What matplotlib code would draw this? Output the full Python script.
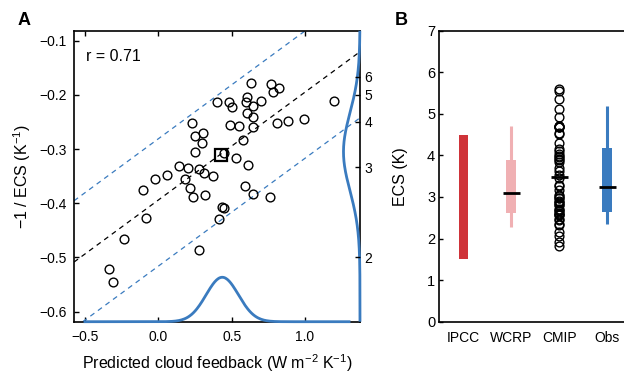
import numpy as np
import matplotlib
matplotlib.use('Agg')
import matplotlib.pyplot as plt

plt.rcParams['font.family'] = ['Liberation Sans', 'DejaVu Sans']
plt.rcParams['mathtext.default'] = 'regular'

# Panel A: predicted cloud feedback vs -1/ECS for the CMIP models
CLOUD_FB = [0.630, 0.766, 0.820, 0.784, 0.604, 0.398, 0.484, 0.502, 0.598,
            0.647, 0.698, 1.197, 0.604, 0.643, 0.229, 0.488, 0.550, 0.643,
            0.807, 0.886, 0.995, 0.250, 0.306, 0.295, 0.579, 0.248, 0.448,
            0.527, 0.611, 0.139, 0.204, 0.279, 0.313, 0.375, 0.061, -0.021,
            0.184, 0.214, -0.103, 0.589, 0.643, 0.761, 0.236, 0.316, 0.432,
            0.445, 0.411, -0.084, -0.234, 0.279, -0.336, -0.311]
NEG_INV_ECS = [-0.179, -0.180, -0.187, -0.195, -0.203, -0.214, -0.213,
               -0.222, -0.214, -0.220, -0.212, -0.212, -0.233, -0.241,
               -0.251, -0.256, -0.257, -0.260, -0.252, -0.248, -0.244,
               -0.276, -0.270, -0.289, -0.283, -0.305, -0.307, -0.316,
               -0.329, -0.332, -0.335, -0.337, -0.344, -0.350, -0.348,
               -0.356, -0.356, -0.371, -0.375, -0.368, -0.382, -0.388,
               -0.388, -0.385, -0.406, -0.408, -0.429, -0.427, -0.466,
               -0.487, -0.522, -0.546]
OBS_POINT = (0.425, -0.311)

# regression line and prediction interval
FIT_SLOPE = 0.199
FIT_INTERCEPT = -0.394
PI_UPPER_INTERCEPT = -0.281
PI_LOWER_INTERCEPT = -0.516

# observational constraint distributions
FB_OBS_MEAN, FB_OBS_SD = 0.436, 0.11
ECS_PRED_MEAN, ECS_PRED_SD = -0.305, 0.072

ECS_TICKS = [2, 3, 4, 5, 6]

# Panel B: ECS ranges
B_LABELS = ['IPCC', 'WCRP', 'CMIP', 'Obs']
IPCC_RANGE = (1.5, 4.5)
WCRP_WHISK = (2.29, 4.71)
WCRP_BOX = (2.61, 3.89)
WCRP_MED = 3.10
OBS_WHISK = (2.34, 5.19)
OBS_BOX = (2.65, 4.17)
OBS_MED = 3.25
CMIP_MED = 3.49

BLUE = '#3a7bbf'
RED = '#cf3339'
PINK = '#f0b0b3'

fig = plt.figure(figsize=(6.24, 3.73), dpi=100)
axA = fig.add_axes([0.1186, 0.1375, 0.4583, 0.7802])
axB = fig.add_axes([0.704, 0.1375, 0.3077, 0.7802])

xlo, xhi = -0.575, 1.375
ylo, yhi = -0.6185, -0.0816
axA.set_xlim(xlo, xhi)
axA.set_ylim(ylo, yhi)

# fit and prediction interval lines
axA.axline((0, FIT_INTERCEPT), slope=FIT_SLOPE, color='black', lw=0.9,
           ls=(0, (4, 3.5)))
axA.axline((0, PI_UPPER_INTERCEPT), slope=FIT_SLOPE, color=BLUE, lw=0.9,
           ls=(0, (4, 3.5)))
axA.axline((0, PI_LOWER_INTERCEPT), slope=FIT_SLOPE, color=BLUE, lw=0.9,
           ls=(0, (4, 3.5)))

axA.plot(CLOUD_FB, NEG_INV_ECS, 'o', mfc='none', mec='black', ms=6.3, mew=1.0)
axA.plot(*OBS_POINT, 's', mfc='none', mec='black', ms=8.5, mew=1.6)

# observed cloud feedback pdf along the bottom
xs = np.linspace(-0.51, 1.31, 300)
bottom_pdf = np.exp(-0.5 * ((xs - FB_OBS_MEAN) / FB_OBS_SD) ** 2)
axA.plot(xs, ylo + 0.082 * bottom_pdf, color=BLUE, lw=2.0, clip_on=False,
         zorder=3, solid_capstyle='butt')

# predicted -1/ECS pdf along the right edge
ys = np.linspace(ylo, yhi, 300)
right_pdf = np.exp(-0.5 * ((ys - ECS_PRED_MEAN) / ECS_PRED_SD) ** 2)
axA.plot(xhi - 0.1125 * right_pdf, ys, color=BLUE, lw=2.0, clip_on=False,
         zorder=3, solid_capstyle='butt')

axA.text(0.042, 0.911, 'r = 0.71', transform=axA.transAxes, fontsize=11.5,
         va='center', ha='left')

axA.set_xticks([-0.5, 0.0, 0.5, 1.0])
axA.set_xticklabels(['−0.5', '0.0', '0.5', '1.0'])
axA.set_yticks([-0.1, -0.2, -0.3, -0.4, -0.5, -0.6])
axA.set_yticklabels(['−0.1', '−0.2', '−0.3', '−0.4', '−0.5', '−0.6'])
axA.tick_params(direction='in', length=3.5, width=1, labelsize=10,
                top=True, right=False)
axA.tick_params(axis='x', pad=6)
axA.tick_params(axis='y', pad=5)
for sp in axA.spines.values():
    sp.set_linewidth(1.2)

axA.set_xlabel('Predicted cloud feedback (W m$^{-2}$ K$^{-1}$)', fontsize=11.5)
axA.set_ylabel('−1 / ECS (K$^{-1}$)', fontsize=11.5)
axA.xaxis.set_label_coords(0.5, -0.105)
axA.yaxis.set_label_coords(-0.143, 0.5)

# right ECS axis
axR = axA.twinx()
axR.set_ylim(ylo, yhi)
axR.set_yticks([-1.0 / e for e in ECS_TICKS])
axR.set_yticklabels([str(e) for e in ECS_TICKS])
axR.tick_params(direction='in', length=3.5, width=1, labelsize=10, pad=3)
for sp in axR.spines.values():
    sp.set_visible(False)

# Panel B
axB.set_xlim(0.5, 4.5)
axB.set_ylim(0, 7)

axB.bar(1, IPCC_RANGE[1] - IPCC_RANGE[0], bottom=IPCC_RANGE[0], width=0.19,
        color=RED)

axB.vlines(2, *WCRP_WHISK, color=PINK, lw=2.2)
axB.bar(2, WCRP_BOX[1] - WCRP_BOX[0], bottom=WCRP_BOX[0], width=0.21,
        color=PINK)
axB.hlines(WCRP_MED, 2 - 0.18, 2 + 0.18, color='black', lw=2.0)

cmip_ecs = [-1.0 / v for v in NEG_INV_ECS]
axB.plot([3] * len(cmip_ecs), cmip_ecs, 'o', mfc='none', mec='black',
         ms=6.3, mew=1.0)
axB.hlines(CMIP_MED, 3 - 0.18, 3 + 0.18, color='black', lw=2.0, zorder=3)

axB.vlines(4, *OBS_WHISK, color=BLUE, lw=2.2)
axB.bar(4, OBS_BOX[1] - OBS_BOX[0], bottom=OBS_BOX[0], width=0.21,
        color=BLUE)
axB.hlines(OBS_MED, 4 - 0.18, 4 + 0.18, color='black', lw=2.0)

axB.set_xticks([1, 2, 3, 4])
axB.set_xticklabels(B_LABELS)
axB.set_yticks(range(0, 8))
axB.tick_params(axis='x', length=0, pad=7, labelsize=10)
axB.tick_params(axis='y', direction='in', length=3, width=1, pad=3,
                labelsize=10.5)
for sp in axB.spines.values():
    sp.set_linewidth(1.2)
axB.set_ylabel('ECS (K)', fontsize=11.5)
axB.yaxis.set_label_coords(-0.163, 0.5)

fig.text(24.5 / 624, 1 - 20.8 / 373, 'A', fontsize=13, fontweight='bold',
         ha='center', va='center')
fig.text(400.8 / 624, 1 - 20.8 / 373, 'B', fontsize=13, fontweight='bold',
         ha='center', va='center')

fig.savefig('out.png', dpi=100)
